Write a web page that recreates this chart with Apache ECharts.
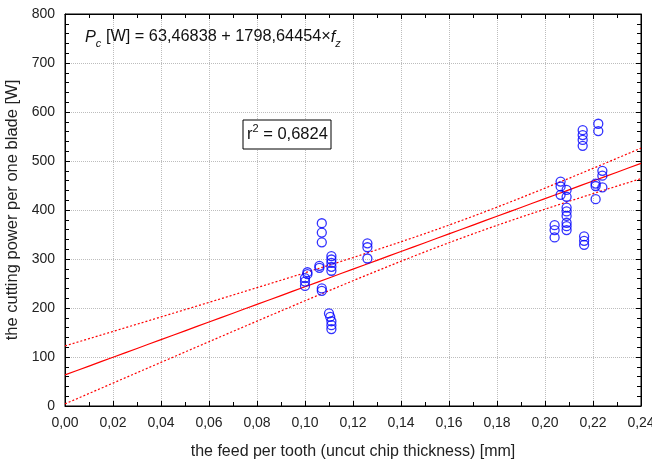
<!DOCTYPE html>
<html>
<head>
<meta charset="utf-8">
<script src="https://cdn.jsdelivr.net/npm/echarts@6/dist/echarts.min.js"></script>
<style>
html,body{margin:0;padding:0;background:#fff;}
#chart{width:652px;height:462px;}
</style>
</head>
<body>
<div id="chart"></div>
<script>
// feed per tooth [mm]
const feed = [
  0.100, 0.100, 0.100,
  0.101, 0.101,
  0.107, 0.107, 0.107, 0.107, 0.107,
  0.106, 0.106,
  0.111, 0.111, 0.111, 0.111, 0.111,
  0.110, 0.1105, 0.111, 0.111, 0.111,
  0.126, 0.126, 0.126,
  0.204, 0.204, 0.204,
  0.2065, 0.2065, 0.2065,
  0.209, 0.209, 0.209, 0.209, 0.209, 0.209, 0.209, 0.209,
  0.2157, 0.2157, 0.2157, 0.2157,
  0.2163, 0.2163, 0.2163,
  0.2222, 0.2222,
  0.2211, 0.2211, 0.2211,
  0.2239, 0.2239, 0.2239
];
// cutting power per one blade [W]
const power = [
  261, 254, 245,
  273, 269,
  373, 354, 334, 240, 235,
  286, 282,
  306, 299, 292, 284, 276,
  189, 182, 173, 165, 157,
  332, 324, 301,
  369, 359, 344,
  458, 448, 431,
  441, 427, 405, 397, 388, 374, 367, 359,
  563, 553, 543, 531,
  346, 337, 329,
  576, 561,
  454, 449, 422,
  480, 470, 446
];
// regression coefficients as printed on the chart
const intercept = 63.46838;
const slope = 1798.64454;
const r2Text = '0,6824';
const xTicks = [0, 0.24, 0.02];
const yTicks = [0, 800, 100];

// 95% confidence band around the fitted line, from the data
const n = feed.length;
const xbar = feed.reduce((a, b) => a + b, 0) / n;
let Sxx = 0, SSE = 0;
for (let i = 0; i < n; i++) {
  Sxx += (feed[i] - xbar) ** 2;
  const r = power[i] - (intercept + slope * feed[i]);
  SSE += r * r;
}
const s = Math.sqrt(SSE / (n - 2));
const tCrit = 2.0066;
const fitLine = [], upper = [], lower = [];
for (let k = 0; k <= 48; k++) {
  const x = xTicks[1] * k / 48;
  const yhat = intercept + slope * x;
  const hw = tCrit * s * Math.sqrt(1 / n + (x - xbar) ** 2 / Sxx);
  fitLine.push([x, yhat]);
  upper.push([x, yhat + hw]);
  lower.push([x, yhat - hw]);
}
const scatterData = feed.map((x, i) => [x, power[i]]);

const FONT = 'Liberation Sans, Arial, sans-serif';
const gridLine = { show: true, lineStyle: { color: '#bdbdbd', type: [1, 1], width: 1 } };
function xAx(pos, labels) {
  return {
    type: 'value', position: pos, min: xTicks[0], max: xTicks[1], interval: xTicks[2],
    axisLine: { show: true, onZero: false, lineStyle: { color: '#000', width: 1 } },
    axisTick: { show: true, inside: true, length: 5, lineStyle: { color: '#000' } },
    minorTick: { show: true, splitNumber: 2, length: 4, lineStyle: { color: '#000' } },
    splitLine: labels ? gridLine : { show: false },
    axisLabel: {
      show: labels, color: '#222', fontFamily: FONT, fontSize: 14, margin: 10,
      formatter: v => v.toFixed(2).replace('.', ',')
    },
    name: labels ? 'the feed per tooth (uncut chip thickness) [mm]' : '',
    nameLocation: 'middle', nameGap: 38,
    nameTextStyle: { color: '#222', fontFamily: FONT, fontSize: 16 }
  };
}
function yAx(pos, labels) {
  return {
    type: 'value', position: pos, min: yTicks[0], max: yTicks[1], interval: yTicks[2],
    axisLine: { show: true, onZero: false, lineStyle: { color: '#000', width: 1 } },
    axisTick: { show: true, inside: true, length: 5, lineStyle: { color: '#000' } },
    minorTick: { show: true, splitNumber: 5, length: 4, lineStyle: { color: '#000' } },
    splitLine: labels ? gridLine : { show: false },
    axisLabel: { show: labels, color: '#222', fontFamily: FONT, fontSize: 14, margin: 10 },
    name: labels ? 'the cutting power per one blade [W]' : '',
    nameLocation: 'middle', nameGap: 34, nameRotate: 90,
    nameTextStyle: { color: '#222', fontFamily: FONT, fontSize: 16.5 }
  };
}

const chart = echarts.init(document.getElementById('chart'), null, { renderer: 'canvas' });
chart.setOption({
  animation: false,
  backgroundColor: '#fff',
  grid: {
    left: 65, right: 11, top: 14, bottom: 56, show: true, borderColor: '#000', borderWidth: 1,
    backgroundColor: 'transparent', containLabel: false, outerBoundsMode: 'none'
  },
  xAxis: [xAx('bottom', true), xAx('top', false)],
  yAxis: [yAx('left', true), yAx('right', false)],
  series: [
    { type: 'line', data: fitLine, showSymbol: false, symbol: 'none', lineStyle: { color: '#ff0000', width: 1.2 }, z: 2 },
    { type: 'line', data: upper, showSymbol: false, symbol: 'none', lineStyle: { color: '#ff0000', width: 1.2, type: [2, 2] }, z: 2 },
    { type: 'line', data: lower, showSymbol: false, symbol: 'none', lineStyle: { color: '#ff0000', width: 1.2, type: [2, 2] }, z: 2 },
    {
      type: 'scatter', data: scatterData, symbol: 'circle', symbolSize: 9,
      itemStyle: { color: 'rgba(0,0,0,0)', borderColor: '#0000ff', borderWidth: 1.3 }, z: 3
    }
  ],
  graphic: [
    {
      type: 'text', left: 85, top: 29, z: 10,
      style: {
        text: '{i|P}{sub|c}{n| [W] = 63,46838 + 1798,64454×}{i|f}{sub|z}',
        fontFamily: FONT, fill: '#111',
        rich: {
          i: { fontStyle: 'italic', fontSize: 16.3, fontFamily: FONT, fill: '#111', lineHeight: 24, verticalAlign: 'middle' },
          n: { fontSize: 16.3, fontFamily: FONT, fill: '#111', lineHeight: 24, verticalAlign: 'middle' },
          sub: { fontStyle: 'italic', fontSize: 11, fontFamily: FONT, fill: '#111', lineHeight: 24, verticalAlign: 'bottom' }
        }
      }
    },
    {
      type: 'rect', shape: { x: 243, y: 120, width: 88, height: 29 }, z: 10,
      style: { fill: '#fff', stroke: '#000', lineWidth: 1 }
    },
    {
      type: 'text', left: 247, top: 123, z: 11,
      style: {
        text: '{n|r}{sup|2}{n| = ' + r2Text + '}',
        fontFamily: FONT, fill: '#111',
        rich: {
          n: { fontSize: 16.5, fontFamily: FONT, fill: '#111', lineHeight: 22, verticalAlign: 'middle' },
          sup: { fontSize: 11, fontFamily: FONT, fill: '#111', lineHeight: 22, verticalAlign: 'top' }
        }
      }
    }
  ]
});
</script>
</body>
</html>
